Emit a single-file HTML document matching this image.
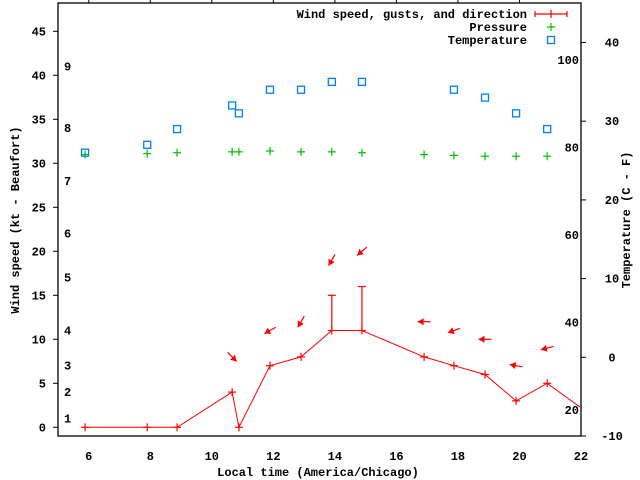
<!DOCTYPE html>
<html><head><meta charset="utf-8"><style>
html,body{margin:0;padding:0;background:#fff;}
svg{display:block;font-family:"Liberation Mono",monospace;font-weight:bold;font-size:12px;}
</style></head><body>
<svg id="chart" width="640" height="480" viewBox="0 0 640 480" xmlns="http://www.w3.org/2000/svg"></svg>
<script>
const hours = [5.88,7.9,8.87,10.66,10.88,11.89,12.9,13.9,14.88,16.9,17.87,18.88,19.89,20.9,22.88];
const windSpeed = [0,0,0,4,0,7,8,11,11,8,7,6,3,5,0];
const windGust = [null,null,null,null,null,null,null,15,16,null,null,null,null,null,null];
const windDir = [null,null,null,315,null,60,30,30,50,90,70,90,100,75,null];
const tempHours = [5.88,7.9,8.87,10.66,10.88,11.89,12.9,13.9,14.88,17.87,18.88,19.89,20.9];
const tempC = [26,27,29,32,31,34,34,35,35,34,33,31,29];
const pressHours = [5.88,7.9,8.87,10.66,10.88,11.89,12.9,13.9,14.88,16.9,17.87,18.88,19.89,20.9];
const pressure = [31.0,31.1,31.2,31.3,31.3,31.4,31.3,31.3,31.2,31.0,30.9,30.8,30.8,30.8];
const xTicks = [6,8,10,12,14,16,18,20,22];
const yTicks = [0,5,10,15,20,25,30,35,40,45];
const cTicks = [-10,0,10,20,30,40];
const fTicks = [20,40,60,80,100];
const beaufort = [1,4,7,11,17,22,28,34,41];

const L=58,R=581,T=3,B=436;
const X=h=>L+(h-5)*(R-L)/17;
const Y=v=>427.3-v*8.8;
const YC=c=>357.3-c*7.87;
const svg=document.getElementById('chart');
const NS='http://www.w3.org/2000/svg';
function el(tag,attrs,parent){const e=document.createElementNS(NS,tag);for(const k in attrs)e.setAttribute(k,attrs[k]);(parent||svg).appendChild(e);return e;}
function txt(s,x,y,anchor,parent){const t=el('text',{x:x,y:y,'text-anchor':anchor||'start'},parent);t.textContent=s;return t;}

el('defs',{}).innerHTML='<clipPath id="clip"><rect x="58" y="3" width="523" height="433"/></clipPath>';
el('rect',{x:L,y:T,width:R-L,height:B-T,fill:'none',stroke:'#000','stroke-width':1.3,});

xTicks.forEach(h=>{
  const g=el('g',{});
  
  
  if(h<22) el('line',{x1:X(h),x2:X(h),y1:0,y2:T,stroke:'#000'},g);
  txt(String(h),X(h),460,'middle',g);
});
yTicks.forEach(v=>{
  const g=el('g',{});
  
  
  el('line',{x1:L-5,x2:L,y1:Y(v),y2:Y(v),stroke:'#000'},g);
  txt(String(v),46,Y(v)+4,'end',g);
});
cTicks.forEach(c=>{
  const g=el('g',{});
  
  
  el('line',{x1:R,x2:R+5,y1:YC(c),y2:YC(c),stroke:'#000'},g);
  txt(String(c),612,YC(c)+4,'middle',g);
});
fTicks.forEach(f=>{
  const t=txt(String(f),579,YC((f-32)*5/9)+4,'end');
  
  
});
beaufort.forEach((k,i)=>{
  const t=txt(String(i+1),64,Y(k)+4,'start');
  
  
});

let t=txt('Local time (America/Chicago)',318,476,'middle');
t=txt('Wind speed (kt - Beaufort)',0,0,'middle');t.setAttribute('transform','translate(19,220) rotate(-90)');
t=txt('Temperature (C - F)',0,0,'middle');t.setAttribute('transform','translate(630,220) rotate(-90)');

const plot=el('g',{'clip-path':'url(#clip)',});
el('polyline',{points:hours.map((h,i)=>X(h)+','+Y(windSpeed[i])).join(' '),fill:'none',stroke:'#f00','stroke-width':1,},plot);
function plus(x,y,color,name,parent){const g=el('g',{stroke:color,'stroke-width':1.2},parent);el('line',{x1:x-4,x2:x+4,y1:y,y2:y},g);el('line',{x1:x,x2:x,y1:y-4,y2:y+4},g);return g;}
hours.forEach((h,i)=>{
  plus(X(h),Y(windSpeed[i]),'#f00','wind-point',plot);
  if(windGust[i]!=null){
    const g=el('g',{stroke:'#f00','stroke-width':1.2},plot);
    
    
    el('line',{x1:X(h),x2:X(h),y1:Y(windSpeed[i]),y2:Y(windGust[i])},g);
    el('line',{x1:X(h)-4,x2:X(h)+4,y1:Y(windGust[i]),y2:Y(windGust[i])},g);
  }
  if(windDir[i]!=null){
    const top=Math.max(windSpeed[i],windGust[i]||0)+4;
    const cx=X(h),cy=Y(top),d=windDir[i]*Math.PI/180;
    const ux=-Math.sin(d),uy=Math.cos(d);
    const tx=cx-ux*6.5,ty=cy-uy*6.5,hx=cx+ux*6.5,hy=cy+uy*6.5;
    const g=el('g',{},plot);
    
    
    el('line',{x1:tx,y1:ty,x2:hx,y2:hy,stroke:'#f00','stroke-width':1.2},g);
    const px=-uy,py=ux;
    const bx=hx-ux*6,by=hy-uy*6;
    el('polygon',{points:`${hx},${hy} ${bx+px*3.5},${by+py*3.5} ${bx-px*3.5},${by-py*3.5}`,fill:'#f00'},g);
  }
});
pressHours.forEach((h,i)=>plus(X(h),Y(pressure[i]),'#00c000','pressure-point',plot));
tempHours.forEach((h,i)=>{
  const r=el('rect',{x:X(h)-3.5,y:YC(tempC[i])-3.5,width:7,height:7,fill:'none',stroke:'#0080ff','stroke-width':1.3},plot);
  
  
});

const lg=el('g',{});
txt('Wind speed, gusts, and direction',527,18,'end',lg);
txt('Pressure',527,31,'end',lg);
txt('Temperature',527,44,'end',lg);
const w=el('g',{stroke:'#f00','stroke-width':1.2,},lg);
el('line',{x1:535,x2:567,y1:14,y2:14},w);el('line',{x1:535,x2:535,y1:11,y2:17},w);el('line',{x1:567,x2:567,y1:11,y2:17},w);el('line',{x1:551,x2:551,y1:10,y2:18},w);
plus(551,27,'#00c000','legend-pressure-sample',lg);
el('rect',{x:547.5,y:36.5,width:7,height:7,fill:'none',stroke:'#0080ff','stroke-width':1.3,},lg);
</script>
</body></html>
